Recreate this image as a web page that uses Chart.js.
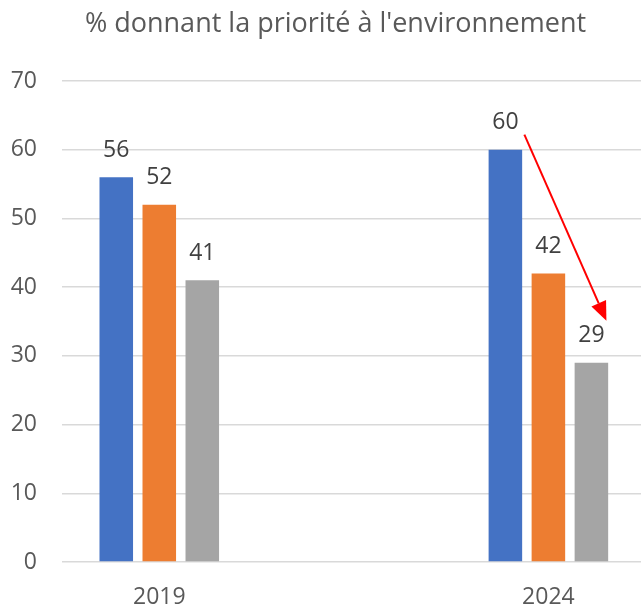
<!DOCTYPE html>
<html>
<head>
<meta charset="utf-8">
<script src="https://cdn.jsdelivr.net/npm/chart.js@4/dist/chart.umd.min.js"></script>
<style>
  html, body { margin: 0; padding: 0; background: #ffffff; }
  #wrap { width: 641px; height: 606px; }
</style>
</head>
<body>
<div id="wrap"><canvas id="c" width="641" height="606"></canvas></div>
<script>
const categories = ['2019', '2024'];
const seriesA = [56, 60];
const seriesB = [52, 42];
const seriesC = [41, 29];
const yTicks = [0, 10, 20, 30, 40, 50, 60, 70];
const titleText = "% donnant la priorité à l'environnement";

const FONT = '"Open Sans", Lato, sans-serif';

function toPoints(vals) {
  return vals.map((v, i) => ({ x: i, y: v }));
}

// shift the title block so it is centred a little right of the canvas centre
const titleShift = {
  id: 'titleShift',
  afterLayout(chart) {
    if (chart.titleBlock) {
      chart.titleBlock.left = 30;
    }
  }
};

const labelPlugin = {
  id: 'valueLabels',
  afterDatasetsDraw(chart) {
    const ctx = chart.ctx;
    ctx.save();
    ctx.font = '23px ' + FONT;
    ctx.fillStyle = '#404040';
    ctx.textAlign = 'center';
    ctx.textBaseline = 'middle';
    chart.data.datasets.forEach((ds, di) => {
      const meta = chart.getDatasetMeta(di);
      meta.data.forEach((el, i) => {
        ctx.fillText(String(ds.data[i].y), el.x, el.y - 27);
      });
    });
    // red arrow from the 2024 first-series label to the 2024 third-series label
    const a = chart.getDatasetMeta(0).data[1];
    const c = chart.getDatasetMeta(2).data[1];
    const x1 = a.x + 19, y1 = a.y - 15;
    const x2 = c.x + 15, y2 = c.y - 42;
    const ang = Math.atan2(y2 - y1, x2 - x1);
    const headLen = 19, headW = 8;
    const bx = x2 - headLen * Math.cos(ang), by = y2 - headLen * Math.sin(ang);
    ctx.strokeStyle = '#ff0000';
    ctx.fillStyle = '#ff0000';
    ctx.lineWidth = 2;
    ctx.beginPath();
    ctx.moveTo(x1, y1);
    ctx.lineTo(bx, by);
    ctx.stroke();
    ctx.beginPath();
    ctx.moveTo(x2, y2);
    ctx.lineTo(bx + headW * Math.sin(ang), by - headW * Math.cos(ang));
    ctx.lineTo(bx - headW * Math.sin(ang), by + headW * Math.cos(ang));
    ctx.closePath();
    ctx.fill();
    ctx.restore();
  }
};

new Chart(document.getElementById('c'), {
  type: 'bar',
  data: {
    datasets: [
      { data: toPoints(seriesA), backgroundColor: '#4472C4' },
      { data: toPoints(seriesB), backgroundColor: '#ED7D31' },
      { data: toPoints(seriesC), backgroundColor: '#A5A5A5' }
    ]
  },
  options: {
    responsive: false,
    animation: false,
    events: [],
    categoryPercentage: 0.3316,
    barPercentage: 0.78,
    layout: { padding: 0 },
    plugins: {
      legend: { display: false },
      tooltip: { enabled: false },
      title: {
        display: true,
        text: titleText,
        color: '#595959',
        font: { family: FONT, size: 27, weight: 'normal', lineHeight: 1.2 },
        padding: { top: 8, bottom: 40.6 }
      }
    },
    scales: {
      x: {
        type: 'linear',
        offset: false,
        min: -0.25,
        max: 1.238,
        grid: { display: false, offset: false },
        border: { display: false },
        afterBuildTicks(scale) {
          scale.ticks = categories.map((_, i) => ({ value: i }));
        },
        afterFit(scale) { scale.height = 44; },
        ticks: {
          callback: (v) => categories[v],
          color: '#595959',
          font: { family: FONT, size: 23 },
          padding: 14,
          maxRotation: 0,
          autoSkip: false
        }
      },
      y: {
        min: 0,
        max: 70,
        afterBuildTicks(scale) {
          scale.ticks = yTicks.map(v => ({ value: v }));
        },
        afterFit(scale) { scale.width = 62; },
        grid: { color: '#d9d9d9', lineWidth: 1.5, drawTicks: false },
        border: { display: false },
        ticks: {
          color: '#595959',
          font: { family: FONT, size: 23 },
          padding: 25
        }
      }
    }
  },
  plugins: [titleShift, labelPlugin]
});
</script>
</body>
</html>
